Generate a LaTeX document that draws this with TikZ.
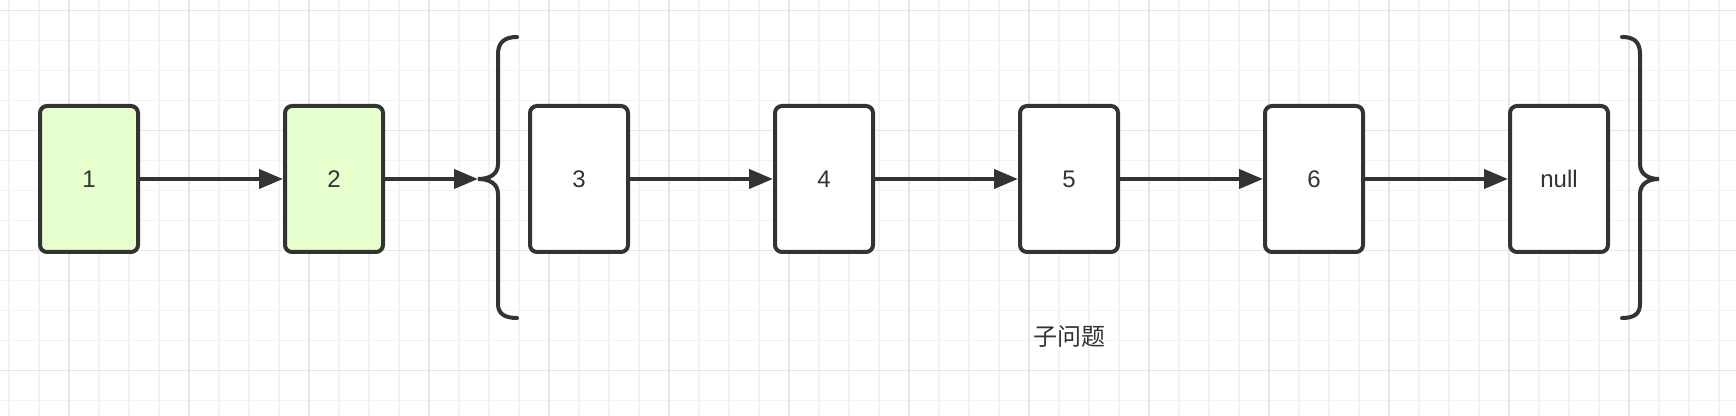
\documentclass[tikz,border=0pt]{standalone}
\usepackage{fontspec}
\setmainfont{Liberation Sans}
\newfontfamily\cjkfont{Noto Sans CJK SC}
\usetikzlibrary{positioning,arrows.meta}

\definecolor{ink}{HTML}{333333}
\definecolor{leaf}{HTML}{E6FFCC}
\definecolor{gridmin}{HTML}{F3F3F3}
\definecolor{gridmaj}{HTML}{E6E6E6}

\tikzset{
  linked/.style={
    x=0.5pt, y=-0.5pt,
    node distance=71.5pt,
    every node/.style={font=\fontsize{12pt}{14pt}\selectfont, text=ink},
    cell/.style={
        draw=ink,
        fill=white,
        line width=2pt,
        rounded corners=3.5pt,
        minimum width=49pt,
        minimum height=73pt,
        inner sep=0pt,
    },
    done/.style={cell, fill=leaf},
    link/.style={draw=ink, line width=2pt, -{Triangle[length=12pt,width=9.5pt]}},
    brace/.style={draw=ink, line width=2pt, line cap=round},
  }
}

\begin{document}
\begin{tikzpicture}[linked]
        % background grid
        \fill[white] (0,0) rectangle (1736,416);
        \useasboundingbox (0,0) rectangle (1736,416);
        \foreach \gx in {9,39,...,1736} \draw[gridmin, line width=0.6pt] (\gx,0) -- (\gx,416);
        \foreach \gy in {10.7,40.7,...,416} \draw[gridmin, line width=0.6pt] (0,\gy) -- (1736,\gy);
        \foreach \gx in {69,189,...,1736} \draw[gridmaj, line width=0.8pt] (\gx,0) -- (\gx,416);
        \foreach \gy in {10.7,130.7,...,416} \draw[gridmaj, line width=0.8pt] (0,\gy) -- (1736,\gy);

        % list
        \node[done] (n1) at (89,179) {1};
        \node[done, right=of n1] (n2) {2};
        \node[cell, right=of n2] (n3) {3};
        \node[cell, right=of n3] (n4) {4};
        \node[cell, right=of n4] (n5) {5};
        \node[cell, right=of n5] (n6) {6};
        \node[cell, right=of n6] (nnull) {null};

        % braces round the sub problem
        \coordinate (subtip) at (478,179);
        \draw[brace] (517,37) .. controls (505,37) and (498,42) .. (498,54)
            -- (498,164) .. controls (498,174) and (490,179) .. (subtip)
            .. controls (490,179) and (498,184) .. (498,194)
            -- (498,304) .. controls (498,314) and (505,318) .. (517,318);
        \draw[brace] (1622,37) .. controls (1634,37) and (1640,42) .. (1640,54)
            -- (1640,164) .. controls (1640,174) and (1648,179) .. (1659,179)
            .. controls (1648,179) and (1640,184) .. (1640,194)
            -- (1640,304) .. controls (1640,314) and (1634,318) .. (1622,318);
        \node (sub) at (1069,337) {\cjkfont 子问题};

        \draw[link] (n1) -- (n2);
        \draw[link] (n2) -- (subtip);
        \draw[link] (n3) -- (n4);
        \draw[link] (n4) -- (n5);
        \draw[link] (n5) -- (n6);
        \draw[link] (n6) -- (nnull);
\end{tikzpicture}
\end{document}
